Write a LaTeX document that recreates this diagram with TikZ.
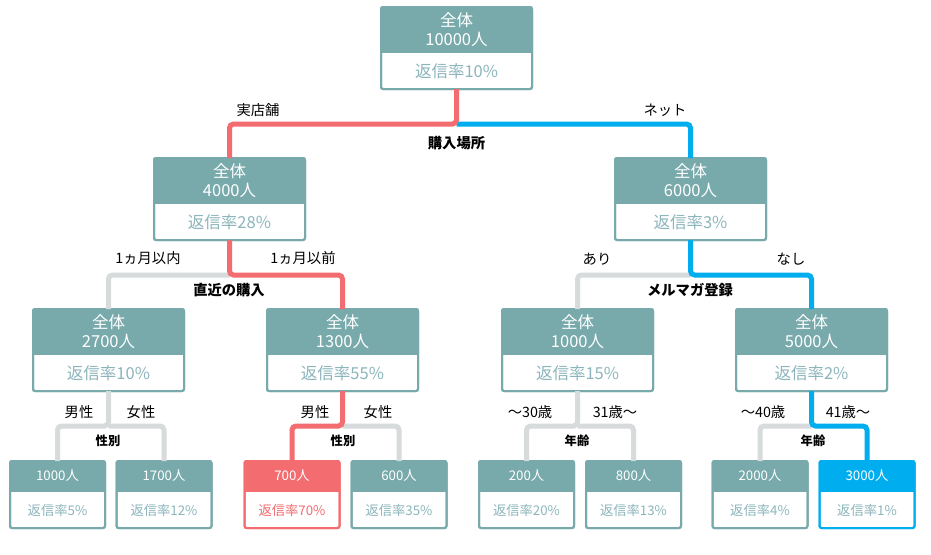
\documentclass[tikz,border=0pt]{standalone}
\usepackage{fontspec}
\setmainfont{Noto Sans CJK JP}
\usetikzlibrary{calc}
\definecolor{tealc}{RGB}{120,169,171}
\definecolor{ratec}{RGB}{140,182,188}
\definecolor{redc}{RGB}{242,108,112}
\definecolor{bluec}{RGB}{0,174,239}
\definecolor{grayc}{RGB}{215,219,219}
\tikzset{
  hdrbig/.style={text=white, align=center, inner sep=0pt, font=\fontsize{16.5}{19}\selectfont},
  ratebig/.style={text=ratec, inner sep=0pt, font=\fontsize{16.5}{19}\selectfont},
  hdrsmall/.style={text=white, inner sep=0pt, font=\fontsize{13.3}{16}\selectfont},
  ratesmall/.style={text=ratec, inner sep=0pt, font=\fontsize{13.3}{16}\selectfont},
  conn/.style={line width=5pt, rounded corners=4pt},
  redl/.style={conn, draw=redc},
  bluel/.style={conn, draw=bluec},
  grayl/.style={conn, draw=grayc},
  lbl/.style={inner sep=0pt, font=\fontsize{14.3}{16}\selectfont},
  blbl/.style={inner sep=0pt, font=\fontsize{14.3}{16}\selectfont\bfseries},
  sblbl/.style={inner sep=0pt, font=\fontsize{12.3}{14}\selectfont\bfseries},
  boxframe/.style={line width=2pt, rounded corners=2pt, inner sep=0pt, outer sep=0pt, anchor=north, fill=white}
}
% name, cx, top, color, header, rate
\newcommand\bigbox[6]{%
  \node[boxframe, draw=#4, minimum width=151pt, minimum height=82pt] (#1) at (#2,{#3+1}) {};
  \fill[#4] (#1.north west) rectangle ($(#1.north east)+(0,46)$);
  \node[hdrbig] (#1-h) at ($(#1.north)+(0,22.5)$) {#5};
  \node[ratebig] (#1-r) at ($(#1.north)+(0,64.5)$) {#6};
  \draw[#4, line width=2pt, rounded corners=2pt] (#1.north west) rectangle (#1.south east);
}
\newcommand\smallbox[6]{%
  \node[boxframe, draw=#4, minimum width=95pt, minimum height=67pt] (#1) at (#2,{#3+1}) {};
  \fill[#4] (#1.north west) rectangle ($(#1.north east)+(0,31)$);
  \node[hdrsmall] (#1-h) at ($(#1.north)+(0,15)$) {#5};
  \node[ratesmall] (#1-r) at ($(#1.north)+(0,49.5)$) {#6};
  \draw[#4, line width=2pt, rounded corners=2pt] (#1.north west) rectangle (#1.south east);
}
\begin{document}
\begin{tikzpicture}[x=1pt,y=-1pt]
\useasboundingbox[fill=white] (0,0) rectangle (931,554);
% boxes
\bigbox{root}{456.5}{6}{tealc}{全体\\10000人}{返信率10\%}
\bigbox{la}{229.5}{157}{tealc}{全体\\4000人}{返信率28\%}
\bigbox{lb}{690.5}{157}{tealc}{全体\\6000人}{返信率3\%}
\bigbox{ma}{108.5}{308}{tealc}{全体\\2700人}{返信率10\%}
\bigbox{mb}{342.5}{308}{tealc}{全体\\1300人}{返信率55\%}
\bigbox{mc}{577.5}{308}{tealc}{全体\\1000人}{返信率15\%}
\bigbox{md}{811.5}{308}{tealc}{全体\\5000人}{返信率2\%}
\smallbox{s1}{57.5}{460}{tealc}{1000人}{返信率5\%}
\smallbox{s2}{164}{460}{tealc}{1700人}{返信率12\%}
\smallbox{s3}{292}{460}{redc}{700人}{\textcolor{redc}{返信率70\%}}
\smallbox{s4}{399}{460}{tealc}{600人}{返信率35\%}
\smallbox{s5}{526.5}{460}{tealc}{200人}{返信率20\%}
\smallbox{s6}{633.5}{460}{tealc}{800人}{返信率13\%}
\smallbox{s7}{760}{460}{tealc}{2000人}{返信率4\%}
\smallbox{s8}{867}{460}{bluec}{3000人}{返信率1\%}
% junctions
\coordinate (j0) at (456.5,124);
\coordinate (j1) at (229.5,275);
\coordinate (j2) at (690.5,275);
\coordinate (k1) at (108.5,426);
\coordinate (k2) at (342.5,426);
\coordinate (k3) at (577.5,426);
\coordinate (k4) at (811.5,426);
% connectors
\draw[bluel] (j0) -| (lb.north);
\draw[redl] (root.south) -- (j0) -| (la.north);
\draw[grayl] (j1) -| (ma.north);
\draw[redl] (la.south) -- (j1) -| (mb.north);
\draw[grayl] (j2) -| (mc.north);
\draw[bluel] (lb.south) -- (j2) -| (md.north);
\draw[grayl] (ma.south) -- (k1) -| (s1.north);
\draw[grayl] (k1) -| (s2.north);
\draw[grayl] (k2) -| (s4.north);
\draw[redl] (mb.south) -- (k2) -| (s3.north);
\draw[grayl] (mc.south) -- (k3) -| (s5.north);
\draw[grayl] (k3) -| (s6.north);
\draw[grayl] (k4) -| (s7.north);
\draw[bluel] (md.south) -- (k4) -| (s8.north);
% labels
\node[lbl] (t1) at (258,110) {実店舗};
\node[lbl] (t2) at (665,110) {ネット};
\node[blbl] (t3) at (456.5,143) {購入場所};
\node[lbl] (t4) at (148,258) {1ヵ月以内};
\node[lbl] (t5) at (303,258) {1ヵ月以前};
\node[blbl] (t6) at (229,290) {直近の購入};
\node[lbl] (t7) at (597,259) {あり};
\node[lbl] (t8) at (791,259) {なし};
\node[blbl] (t9) at (690,290) {メルマガ登録};
\node[lbl] (u1) at (79,412) {男性};
\node[lbl] (u2) at (141,412) {女性};
\node[sblbl] (u3) at (108,441) {性別};
\node[lbl] (u4) at (315,412) {男性};
\node[lbl] (u5) at (378,412) {女性};
\node[sblbl] (u6) at (343,441) {性別};
\node[lbl] (u7) at (530,412) {～30歳};
\node[lbl] (u8) at (615,412) {31歳～};
\node[sblbl] (u9) at (577,441) {年齢};
\node[lbl] (v1) at (763,412) {～40歳};
\node[lbl] (v2) at (848,412) {41歳～};
\node[sblbl] (v3) at (813,441) {年齢};
\end{tikzpicture}
\end{document}
